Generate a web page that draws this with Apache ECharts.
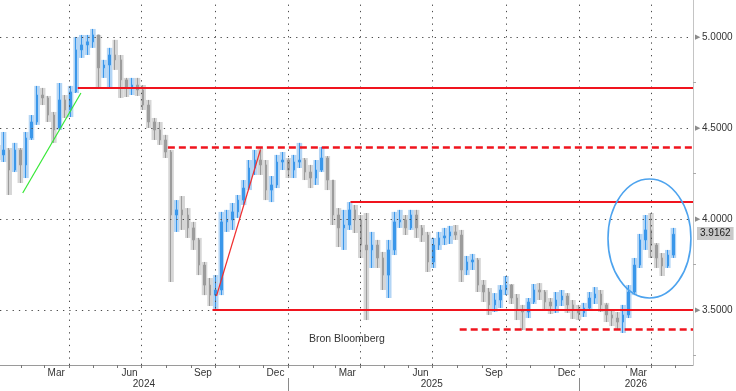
<!DOCTYPE html>
<html><head><meta charset="utf-8">
<script src="https://cdn.jsdelivr.net/npm/echarts@6/dist/echarts.min.js"></script>
<style>html,body{margin:0;padding:0;background:#fff}#c{width:736px;height:391px}</style>
</head><body><div id="c"></div>
<script>
// Weekly bars (week centred on Wednesday, first = 2024-01-03)
const open = [4.379,4.352,4.379,4.269,4.379,4.297,4.445,4.533,4.681,4.665,
4.571,4.500,4.654,4.599,4.698,4.929,4.956,4.973,5.011,4.830,
4.846,4.901,4.874,4.764,4.720,4.736,4.709,4.626,4.533,4.489,
4.434,4.368,4.022,4.050,4.022,3.951,3.885,3.747,3.637,3.582,
3.610,3.984,3.995,4.039,4.104,4.170,4.280,4.324,4.297,4.159,
4.187,4.313,4.324,4.269,4.313,4.324,4.258,4.225,4.269,4.335,
4.214,4.022,3.951,3.967,4.050,3.995,3.857,3.830,3.857,3.786,
3.692,3.830,3.984,3.995,3.951,4.022,3.951,3.912,3.764,3.857,
3.896,3.907,3.929,3.912,3.720,3.764,3.775,3.637,3.599,3.528,
3.555,3.610,3.637,3.566,3.500,3.489,3.544,3.610,3.599,3.544,
3.522,3.555,3.577,3.528,3.500,3.484,3.511,3.566,3.588,3.528,
3.473,3.456,3.434,3.473,3.599,3.747,3.885,3.940,3.857,3.786,
3.742,3.802];
const close = [4.352,4.379,4.269,4.379,4.297,4.445,4.533,4.681,4.665,4.571,
4.489,4.654,4.599,4.698,4.929,4.956,4.973,5.011,4.830,4.846,
4.901,4.874,4.764,4.720,4.736,4.709,4.626,4.533,4.489,4.434,
4.368,4.022,4.050,4.022,3.951,3.885,3.747,3.637,3.582,3.610,
3.984,3.995,4.039,4.104,4.170,4.280,4.324,4.297,4.159,4.187,
4.313,4.324,4.269,4.313,4.324,4.258,4.225,4.269,4.335,4.214,
4.022,3.951,3.967,4.050,3.995,3.857,3.830,3.857,3.786,3.692,
3.830,3.984,3.995,3.951,4.022,3.951,3.912,3.764,3.857,3.896,
3.907,3.929,3.912,3.720,3.764,3.775,3.637,3.599,3.528,3.555,
3.610,3.637,3.566,3.500,3.489,3.544,3.610,3.599,3.544,3.522,
3.555,3.577,3.528,3.500,3.484,3.511,3.566,3.588,3.528,3.473,
3.456,3.434,3.473,3.599,3.747,3.885,3.940,3.857,3.786,3.742,
3.802,3.9162];
const low = [4.324,4.313,4.132,4.258,4.198,4.225,4.434,4.517,4.626,4.533,
4.418,4.489,4.555,4.560,4.692,4.885,4.901,4.940,4.725,4.775,
4.720,4.819,4.665,4.670,4.681,4.676,4.599,4.500,4.434,4.407,
4.335,3.654,3.929,3.940,3.896,3.830,3.692,3.582,3.522,3.506,
3.582,3.929,3.940,4.006,4.077,4.159,4.242,4.242,4.104,4.093,
4.170,4.269,4.225,4.225,4.280,4.214,4.170,4.187,4.258,4.159,
3.967,3.846,3.830,3.940,3.923,3.786,3.445,3.731,3.731,3.610,
3.566,3.802,3.951,3.912,3.940,3.896,3.874,3.709,3.731,3.830,
3.857,3.863,3.885,3.654,3.692,3.720,3.599,3.544,3.473,3.489,
3.511,3.582,3.533,3.445,3.390,3.456,3.533,3.555,3.500,3.478,
3.484,3.522,3.484,3.451,3.445,3.462,3.500,3.533,3.489,3.434,
3.412,3.396,3.374,3.456,3.582,3.731,3.830,3.786,3.731,3.687,
3.731,3.786];
const high = [4.407,4.478,4.390,4.418,4.390,4.478,4.571,4.731,4.720,4.676,
4.588,4.747,4.681,4.731,5.000,5.011,5.011,5.044,5.011,4.874,
4.940,4.984,4.901,4.775,4.775,4.775,4.736,4.654,4.555,4.533,
4.462,4.379,4.104,4.126,4.060,3.984,3.896,3.764,3.676,3.692,
4.039,4.050,4.088,4.132,4.214,4.324,4.379,4.390,4.324,4.236,
4.352,4.368,4.335,4.352,4.418,4.335,4.297,4.324,4.396,4.346,
4.214,4.060,4.050,4.093,4.077,4.022,4.033,3.929,3.885,3.819,
3.885,4.039,4.050,4.022,4.050,4.050,3.967,3.929,3.896,3.929,
3.951,3.962,3.967,3.940,3.797,3.808,3.786,3.665,3.621,3.593,
3.637,3.687,3.643,3.588,3.528,3.566,3.643,3.648,3.610,3.566,
3.599,3.610,3.593,3.555,3.528,3.539,3.599,3.626,3.610,3.539,
3.500,3.489,3.528,3.637,3.786,3.918,4.022,4.033,3.868,3.813,
3.830,3.951];
const lastPrice = 3.9162;

// Axis ticks / labels (dates as [year, monthIndex, day])
const yLabels = [3.5, 4.0, 4.5, 5.0];
const yMinorTicks = [3.25, 3.75, 4.25, 4.75];
const quarterGrid = [[2024,3,1],[2024,6,1],[2024,9,1],[2025,0,1],[2025,3,1],[2025,6,1],[2025,9,1],[2026,0,1],[2026,3,1]];
const monthLabels = [[2024,2,16],[2024,5,16],[2024,8,16],[2024,11,16],[2025,2,16],[2025,5,16],[2025,8,16],[2025,11,16],[2026,2,16]];
const yearLabels = [[2024,6,4],[2025,5,30],[2026,2,13]];
const yearDividers = [[2025,0,1],[2026,0,1]];
const monthNames = ['Jan','Feb','Mar','Apr','May','Jun','Jul','Aug','Sep','Oct','Nov','Dec'];

// Annotations [year, month, day, value]
const greenTrend = [[2024,1,3,4.143],[2024,3,16,4.692]];
const redTrend = [[2024,9,3,3.577],[2024,10,27,4.379]];
const solidLevels = [[2024,3,12,4.720],[2024,8,28,3.500],[2025,2,20,4.093]];
const dashedLevels = [[2024,7,3,4.396],[2025,7,4,3.396]];
const circle = {center:[2026,2,30], value:3.893, rxDays:52, ryValue:0.327};

// x axis unit: days since 2024-01-01
const T0 = Date.UTC(2024,0,1);
const DAY = 86400000;
const D = a => (Date.UTC(a[0], a[1], a[2]) - T0) / DAY;
const toDate = v => new Date(T0 + v*DAY);
const xMin = 4.5, xMax = 873.6;
const weeks = open.map((_, i) => D([2024,0,3+7*i]));
const candles = weeks.map((t,i)=>[t, open[i], close[i], low[i], high[i]]);
const ranges = weeks.map((t,i)=>[t, low[i], high[i], close[i] >= open[i] ? 1 : 0]);
const monthTicks = [];
for (let y=2024;y<=2026;y++) for (let m=0;m<12;m++) { const t=D([y,m,1]); if (t>xMin && t<xMax) monthTicks.push(t); }

const FONT = 'Liberation Sans, Arial, sans-serif';
const dotted = {color:'#4a4a4a', width:1, type:[1.3,5]};
const RED = '#f0141e';
const BLUE = '#3a97ea', GREY = '#9c9c9c';

const chart = echarts.init(document.getElementById('c'), null, {renderer:'canvas'});
chart.setOption({
  animation:false,
  backgroundColor:'#fff',
  grid:{left:0, right:43, top:0, bottom:26, containLabel:false},
  xAxis:[{
    type:'value', min:xMin, max:xMax, position:'bottom',
    axisLine:{show:true, lineStyle:{color:'#9a9a9a', width:1}},
    axisTick:{show:true, customValues:monthTicks, length:3, lineStyle:{color:'#777'}},
    axisLabel:{show:true, customValues:monthLabels.map(D), margin:3, color:'#333', fontFamily:FONT, fontSize:10,
      formatter:v=>monthNames[toDate(v).getUTCMonth()], hideOverlap:false, showMinLabel:true, showMaxLabel:true},
    splitLine:{show:false}
  },{
    type:'value', min:xMin, max:xMax, position:'bottom', offset:13,
    axisLine:{show:false},
    axisTick:{show:true, customValues:yearDividers.map(D), length:13, lineStyle:{color:'#8a8a8a'}},
    axisLabel:{show:true, customValues:yearLabels.map(D), margin:1, color:'#333', fontFamily:FONT, fontSize:10,
      formatter:v=>String(toDate(v).getUTCFullYear()), hideOverlap:false, showMinLabel:true, showMaxLabel:true},
    splitLine:{show:false}
  }],
  yAxis:{
    type:'value', position:'right', min:3.198, max:5.203,
    axisLine:{show:true, lineStyle:{color:'#c4c4c4', width:1}},
    axisTick:{show:true, customValues:yMinorTicks, length:3, lineStyle:{color:'#aaa'}},
    axisLabel:{show:true, customValues:yLabels, margin:2, fontFamily:FONT, fontSize:10, color:'#333',
      formatter:v=>'{a|▶}{b|'+Number(v).toFixed(4)+'}',
      rich:{a:{fontSize:7, color:'#8c8c8c', padding:[0,2,0,0]}, b:{fontSize:10, color:'#333', fontFamily:FONT}}},
    splitLine:{show:false}
  },
  graphic:[{type:'text', left:309, top:334, style:{text:'Bron Bloomberg', fill:'#333', font:'10.5px '+FONT}}],
  series:[
    {type:'line', data:[], z:1, silent:true,
     markLine:{silent:true, symbol:['none','none'], label:{show:false}, lineStyle:dotted, animation:false,
       data: quarterGrid.map(a=>({xAxis:D(a)})).concat(yLabels.map(v=>({yAxis:v})))}},
    {type:'custom', z:2, silent:true, clip:true, data:ranges,
     renderItem:(params, api)=>{
       const top = api.coord([api.value(0), api.value(2)]);
       const bot = api.coord([api.value(0), api.value(1)]);
       const w = api.size([7, 0])[0];
       return {type:'rect', shape:{x:top[0]-w/2, y:top[1], width:w, height:Math.max(1, bot[1]-top[1])},
         style:{fill: api.value(3) ? '#b3d5f5' : '#d6d6d6'}};
     }},
    {type:'candlestick', name:'price', data:candles, encode:{x:0, y:[1,2,3,4]}, barWidth:2, z:3,
     itemStyle:{color:BLUE, color0:GREY, borderColor:BLUE, borderColor0:GREY, borderWidth:1},
     markLine:{silent:true, symbol:['none','none'], animation:false,
       lineStyle:{color:'rgba(0,0,0,0)', width:0},
       label:{show:true, position:'end', distance:4, formatter:lastPrice.toFixed(4), backgroundColor:'#c9c9c9',
         color:'#222', fontFamily:FONT, fontSize:10, padding:[2,3,1,3]},
       data:[{yAxis:lastPrice}]}},
    {type:'line', data:[], z:4, silent:true,
     markLine:{silent:true, symbol:['none','none'], label:{show:false}, animation:false,
       lineStyle:{color:RED, width:2, type:'solid'},
       data: solidLevels.map(a=>[{coord:[D(a),a[3]]},{coord:[xMax,a[3]]}])}},
    {type:'line', data:[], z:4, silent:true,
     markLine:{silent:true, symbol:['none','none'], label:{show:false}, animation:false,
       lineStyle:{color:RED, width:2.5, type:[7,4]},
       data: dashedLevels.map(a=>[{coord:[D(a),a[3]]},{coord:[xMax,a[3]]}])}},
    {type:'line', data:[], z:4, silent:true,
     markLine:{silent:true, symbol:['none','none'], label:{show:false}, animation:false,
       lineStyle:{color:'#36e836', width:1.2, type:'solid'},
       data: [[{coord:[D(greenTrend[0]),greenTrend[0][3]]},{coord:[D(greenTrend[1]),greenTrend[1][3]]}]]}},
    {type:'line', data:[], z:4, silent:true,
     markLine:{silent:true, symbol:['none','none'], label:{show:false}, animation:false,
       lineStyle:{color:'#f03030', width:1.2, type:'solid'},
       data: [[{coord:[D(redTrend[0]),redTrend[0][3]]},{coord:[D(redTrend[1]),redTrend[1][3]]}]]}},
    {type:'custom', z:5, silent:true, clip:false,
     data:[[D(circle.center), circle.value, circle.rxDays, circle.ryValue]],
     renderItem:(params, api)=>{
       const c = api.coord([api.value(0), api.value(1)]);
       const e = api.coord([api.value(0)+api.value(2), api.value(1)-api.value(3)]);
       return {type:'ellipse', shape:{cx:c[0], cy:c[1], rx:Math.abs(e[0]-c[0]), ry:Math.abs(e[1]-c[1])},
         style:{fill:'none', stroke:'#4da3ee', lineWidth:1.6}};
     }}
  ]
});
</script></body></html>
